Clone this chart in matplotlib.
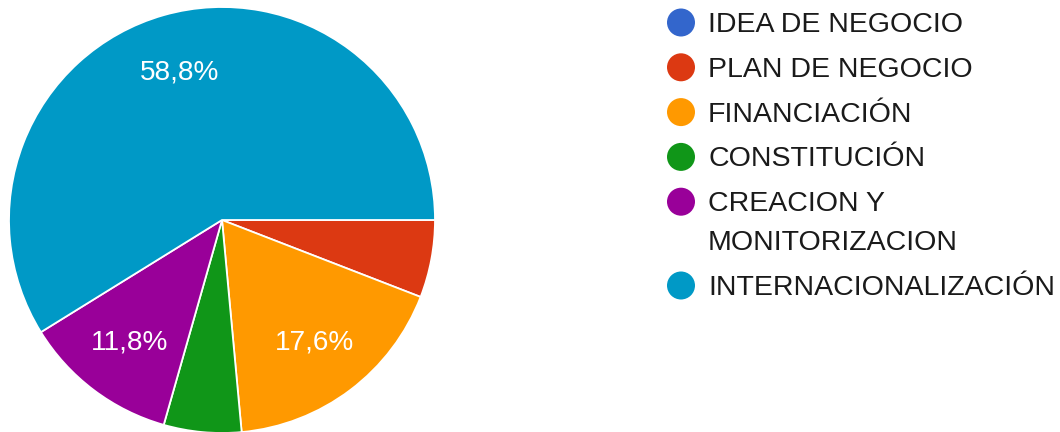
import matplotlib.pyplot as plt
from matplotlib.patches import Circle

plt.rcParams['font.family'] = ['Liberation Sans', 'DejaVu Sans']

labels = ['IDEA DE NEGOCIO', 'PLAN DE NEGOCIO', 'FINANCIACIÓN', 'CONSTITUCIÓN',
          'CREACION Y\nMONITORIZACION', 'INTERNACIONALIZACIÓN']
counts = [0, 1, 3, 1, 2, 10]
colors = ['#3366cc', '#dc3912', '#ff9900', '#109618', '#990099', '#0099c6']

W, H = 1060, 432
fig = plt.figure(figsize=(W / 100, H / 100), dpi=100)

# pie placed by pixel box: centre (222, 220), radius 213
cx, cy, r = 222, 220, 213
ax = fig.add_axes([(cx - r) / W, (H - cy - r) / H, 2 * r / W, 2 * r / H])


def pct_label(p):
    # small slices get no label
    return f'{p:.1f}%'.replace('.', ',') if p >= 10 else ''


wedges, _, autotexts = ax.pie(
    counts, colors=colors, startangle=0, counterclock=False,
    autopct=pct_label, pctdistance=0.72,
    wedgeprops=dict(edgecolor='white', linewidth=1.3),
    textprops=dict(color='white', fontsize=20.2))
for t in autotexts:
    t.set_va('center')
ax.set_xlim(-1, 1)
ax.set_ylim(-1, 1)

# legend on an overlay in pixel coordinates
lg = fig.add_axes([0, 0, 1, 1])
lg.set_xlim(0, W)
lg.set_ylim(H, 0)
lg.axis('off')
lg.patch.set_alpha(0)

y = 22.5
for lab, col in zip(labels, colors):
    lg.add_patch(Circle((681, y), 14, color=col, lw=0))
    lines = lab.split('\n')
    for i, line in enumerate(lines):
        lg.text(708, y + 9.5 + i * 39, line, fontsize=20.5, color='#1a1a1a',
                va='baseline', ha='left')
    y += 44.8 + 39 * (len(lines) - 1)

fig.savefig('out.png', dpi=100)
